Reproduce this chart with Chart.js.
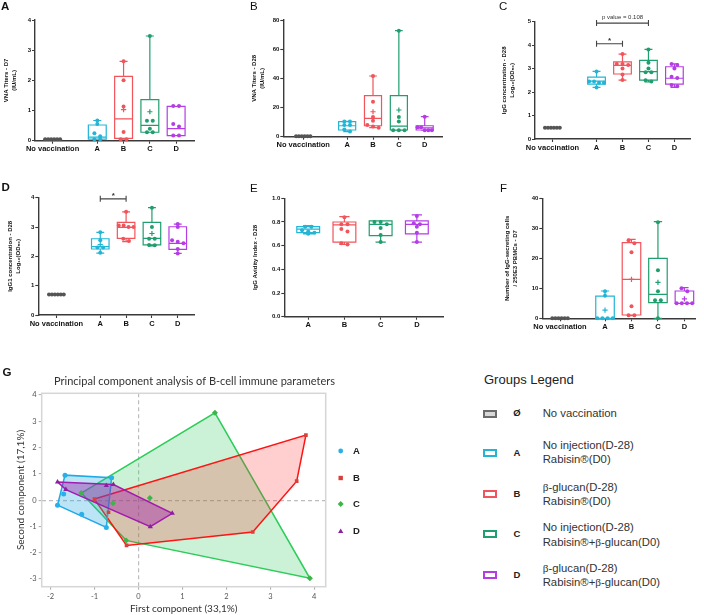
<!DOCTYPE html>
<html>
<head>
<meta charset="utf-8">
<script src="https://cdn.jsdelivr.net/npm/chart.js@4.4.1/dist/chart.umd.min.js"></script>
<style>
  body { margin: 0; background: #fff; }
  #page { position: relative; width: 704px; height: 615px; overflow: hidden; font-family: "Liberation Sans", Arial, sans-serif; color: #222; }
  canvas { position: absolute; }
  .tag { position: absolute; font-size: 11.5px; line-height: 1; color: #111; }
  .b { font-weight: bold; }
  .pl { position: absolute; left: 334px; height: 12px; font-size: 9.5px; font-weight: bold; line-height: 12px; }
  .pl i { position: absolute; left: 0; top: 0; width: 13px; height: 12px; }
  .pl span { position: absolute; left: 19px; }
  .gl { position: absolute; font-size: 11.3px; line-height: 14.3px; color: #333; }
  .ic { position: absolute; left: 482.5px; width: 14px; height: 8px; box-sizing: border-box; border: 2px solid; background: #fff; }
  .lt { position: absolute; left: 511px; width: 12px; text-align: center; font-size: 9.5px; font-weight: bold; line-height: 10px; }
  .sb { font-family: "Liberation Serif", serif; }
</style>
</head>
<body>
<div id="page">
  <canvas id="cA" width="200" height="160" style="left:0;top:0"></canvas>
  <canvas id="cB" width="200" height="160" style="left:248px;top:0"></canvas>
  <canvas id="cC" width="200" height="160" style="left:498px;top:0"></canvas>
  <canvas id="cD" width="196" height="160" style="left:4px;top:180px"></canvas>
  <canvas id="cE" width="199" height="160" style="left:249px;top:180px"></canvas>
  <canvas id="cF" width="203" height="160" style="left:501px;top:180px"></canvas>
  <canvas id="cG" width="340" height="253" style="left:0;top:362px"></canvas>

  <div class="tag b" style="left:1px;top:0.5px">A</div>
  <div class="tag" style="left:250px;top:1px">B</div>
  <div class="tag" style="left:499px;top:1px">C</div>
  <div class="tag b" style="left:1.5px;top:181.5px">D</div>
  <div class="tag" style="left:250px;top:182.5px">E</div>
  <div class="tag" style="left:500px;top:182.5px">F</div>
  <div class="tag b" style="left:2.5px;top:366.5px">G</div>

  <!-- PCA legend -->
  <div class="pl" style="top:444.7px"><i><svg width="13" height="12"><circle cx="6.7" cy="6" r="2.4" fill="#2ab0e8"/></svg></i><span>A</span></div>
  <div class="pl" style="top:471.7px"><i><svg width="13" height="12"><rect x="4.5" y="3.8" width="4.4" height="4.4" fill="#d9403a"/></svg></i><span>B</span></div>
  <div class="pl" style="top:498px"><i><svg width="13" height="12"><polygon points="6.7,3 9.7,6 6.7,9 3.7,6" fill="#3cb54a"/></svg></i><span>C</span></div>
  <div class="pl" style="top:524.7px"><i><svg width="13" height="12"><polygon points="6.7,3.4 9.3,8 4.1,8" fill="#8b1fa0"/></svg></i><span>D</span></div>

  <!-- groups legend -->
  <div class="gl" style="left:484px;top:372px;font-size:13px;line-height:16px;color:#222">Groups Legend</div>
  <div class="ic" style="top:409.7px;border-color:#6b6b6b;background:#d8d8d8"></div>
  <div class="lt" style="top:408.3px">Ø</div>
  <div class="gl" style="left:542.7px;top:406.2px">No vaccination</div>

  <div class="ic" style="top:448.5px;border-color:#22b5d6"></div>
  <div class="lt" style="top:447.5px">A</div>
  <div class="gl" style="left:542.7px;top:437.9px">No injection(D-28)<br>Rabisin®(D0)</div>

  <div class="ic" style="top:489.5px;border-color:#f2545b"></div>
  <div class="lt" style="top:488.5px">B</div>
  <div class="gl" style="left:542.7px;top:479.5px"><span class="sb">β</span>-glucan(D-28)<br>Rabisin®(D0)</div>

  <div class="ic" style="top:530.2px;border-color:#1f9e6e"></div>
  <div class="lt" style="top:529.2px">C</div>
  <div class="gl" style="left:542.7px;top:519.5px;line-height:15px">No injection(D-28)<br>Rabisin®+<span class="sb">β</span>-glucan(D0)</div>

  <div class="ic" style="top:570.8px;border-color:#b43de6"></div>
  <div class="lt" style="top:569.8px">D</div>
  <div class="gl" style="left:542.7px;top:560.5px"><span class="sb">β</span>-glucan(D-28)<br>Rabisin®+<span class="sb">β</span>-glucan(D0)</div>
</div>

<script>
// groupes et couleurs
const groups = ['No vaccination', 'A', 'B', 'C', 'D']
const groupColors = ['#555555', '#22b5d6', '#f2545b', '#1f9e6e', '#b43de6']

// box = [min, q1, mediane, q3, max]
// A - VNA titers D7 (IU/mL)
const vnaD7Box = [[0.05, 0.05, 0.05, 0.05, 0.05], [0.05, 0.05, 0.12, 0.52, 0.67], [0.05, 0.08, 0.72, 2.13, 2.63], [0.28, 0.28, 0.51, 1.36, 3.47], [0.17, 0.17, 0.40, 1.14, 1.14]]
const vnaD7Points = [[0.05, 0.05, 0.05, 0.05, 0.05, 0.05], [0.67, 0.55, 0.25, 0.15, 0.05, 0.05], [2.63, 2.0, 1.13, 0.29, 0.05, 0.05], [3.47, 0.66, 0.66, 0.4, 0.28, 0.28], [1.15, 1.15, 0.55, 0.47, 0.17, 0.17]]
const vnaD7Mean = [null, null, 1.03, 0.96, null]

// B - VNA titers D28 (IU/mL)
const vnaD28Box = [[0.3, 0.3, 0.3, 0.3, 0.3], [3.5, 4.6, 7.5, 10.3, 10.5], [6.2, 7.5, 12.6, 28.1, 41.6], [4.5, 4.6, 7.3, 28.1, 72.7], [4.5, 4.6, 6.0, 7.5, 13.7]]
const vnaD28Points = [[0.3, 0.3, 0.3, 0.3, 0.3, 0.3], [10.5, 10.5, 8, 8, 5, 3.5], [41.6, 24, 13.5, 11, 8, 7, 6.2], [72.7, 13.5, 10.5, 4.5, 4.5, 4.5], [13.7, 6.5, 6.5, 4.5, 4.5, 4.5]]
const vnaD28Mean = [null, null, 17.1, 18.3, null]

// C - IgG D28 log10(OD50)
const iggBox = [[0.48, 0.48, 0.48, 0.48, 0.48], [2.2, 2.34, 2.47, 2.64, 2.88], [2.51, 2.77, 3.14, 3.29, 3.62], [2.43, 2.51, 2.87, 3.35, 3.82], [2.2, 2.34, 2.59, 3.08, 3.2]]
const iggPoints = [[0.48, 0.48, 0.48, 0.48, 0.48, 0.48], [2.88, 2.45, 2.45, 2.4, 2.4, 2.2], [3.62, 3.2, 3.2, 3.15, 3.0, 2.75, 2.51], [3.82, 3.25, 3.0, 2.85, 2.85, 2.5, 2.45], [3.2, 3.15, 3.0, 2.65, 2.6, 2.3, 2.25]]
const iggSig = [{ from: 1, to: 3, at: 4.94, text: 'p value = 0.108' }, { from: 1, to: 2, at: 4.06, text: '*' }]

// D - IgG1 D28 log10(OD50)
const igg1Box = [[0.7, 0.7, 0.7, 0.7, 0.7], [2.11, 2.25, 2.33, 2.6, 2.82], [2.5, 2.61, 2.99, 3.16, 3.52], [2.36, 2.39, 2.61, 3.16, 3.66], [2.1, 2.24, 2.44, 3.01, 3.1]]
const igg1Points = [[0.7, 0.7, 0.7, 0.7, 0.7, 0.7], [2.82, 2.55, 2.3, 2.3, 2.12], [3.52, 3.05, 3.05, 3.0, 3.0, 2.6, 2.52], [3.66, 3.0, 2.6, 2.6, 2.39, 2.38], [3.1, 3.0, 2.55, 2.5, 2.45, 2.25, 2.1]]
const igg1Mean = [null, 2.4, null, 2.78, null]
const igg1Sig = [{ from: 1, to: 2, at: 3.96, text: '*' }]

// E - avidity index D28 (pas de groupe non vacciné)
const avidBox = [null, [0.70, 0.71, 0.74, 0.76, 0.77], [0.61, 0.63, 0.775, 0.80, 0.845], [0.63, 0.685, 0.78, 0.81, 0.81], [0.63, 0.70, 0.78, 0.81, 0.86]]
const avidPoints = [null, [0.76, 0.76, 0.73, 0.72, 0.71, 0.70], [0.84, 0.78, 0.78, 0.74, 0.72, 0.62, 0.61], [0.80, 0.80, 0.78, 0.75, 0.69, 0.63], [0.85, 0.79, 0.78, 0.76, 0.71, 0.63]]

// F - IgG secreting cells / 250E3 PBMCs D7
const ascBox = [[0, 0, 0, 0, 0], [0, 0, 0, 7.4, 9.1], [0.9, 1.1, 13, 25.2, 26.3], [0, 5.2, 8, 20, 32.2], [5, 5, 5, 9.1, 10.2]]
const ascPoints = [[0, 0, 0, 0, 0, 0], [9, 7.5, 0, 0, 0, 0], [26, 25, 22, 4, 1, 1], [32, 16, 9, 6, 6, 0], [10, 9, 5, 5, 5, 5]]
const ascMean = [null, 2.7, 13, 12, 6.5]

// G - ACP, coordonnees (CP1, CP2) par groupe
const pcaA = [[-1.67, 0.95], [-0.61, 0.85], [-0.73, -1.04], [-1.29, -0.54], [-1.84, -0.19], [-1.70, 0.23]]
const pcaB = [[-1.0, 0.04], [3.81, 2.47], [3.60, 0.72], [2.60, -1.21], [-0.27, -1.72], [-0.68, -0.46]]
const pcaC = [[-1.30, 0.27], [1.74, 3.32], [3.90, -2.97], [-0.28, -1.53], [0.26, 0.08], [-0.58, -0.12]]
const pcaD = [[-1.84, 0.69], [-1.65, 0.40], [-0.73, 0.56], [-0.57, 0.59], [0.77, -0.50], [0.27, -1.01]]
const pcaTicksX = [-2, -1, 0, 1, 2, 3, 4]
const pcaTicksY = [-3, -2, -1, 0, 1, 2, 3, 4]

// position des groupes sur l'axe x (ecart plus grand apres "No vaccination")
const noVacGap = 1.7
const groupPos = [0, noVacGap, noVacGap + 1, noVacGap + 2, noVacGap + 3]

Chart.defaults.font.family = '"Liberation Sans", Arial, sans-serif'
Chart.defaults.color = '#222'

/**
 * etale les points de valeur proche horizontalement
 */
function spreadPoints(values, pos, step, half, tol) {
  const sorted = [...values].sort((a, b) => b - a)
  const out = []
  let i = 0
  while (i < sorted.length) {
    let j = i
    while (j + 1 < sorted.length && sorted[i] - sorted[j + 1] <= tol) j++
    const k = j - i + 1
    const s = k > 1 ? Math.min(step, 2 * half / (k - 1)) : 0
    for (let m = 0; m < k; m++) out.push({ x: pos + (m - (k - 1) / 2) * s, y: sorted[i + m] })
    i = j + 1
  }
  return out
}

function makeBoxPlugin(stats, boxWidth, sig) {
  return {
    id: 'boxPlot',
    beforeDatasetsDraw(chart) {
      const { ctx } = chart
      const x = chart.scales.x, y = chart.scales.y
      stats.forEach((s, i) => {
        if (!s) return
        const cx = x.getPixelForValue(groupPos[i])
        const half = x.getPixelForValue(groupPos[i] + boxWidth / 2) - cx
        const p = s.map(v => y.getPixelForValue(v))
        ctx.save()
        ctx.strokeStyle = groupColors[i]
        ctx.lineWidth = 1.2
        ctx.beginPath()
        ctx.rect(cx - half, p[3], half * 2, p[1] - p[3])
        ctx.moveTo(cx - half, p[2]); ctx.lineTo(cx + half, p[2])
        ctx.moveTo(cx, p[3]); ctx.lineTo(cx, p[4])
        ctx.moveTo(cx, p[1]); ctx.lineTo(cx, p[0])
        ctx.moveTo(cx - half * 0.45, p[4]); ctx.lineTo(cx + half * 0.45, p[4])
        ctx.moveTo(cx - half * 0.45, p[0]); ctx.lineTo(cx + half * 0.45, p[0])
        ctx.stroke()
        ctx.restore()
      })
    },
    afterDatasetsDraw(chart) {
      if (!sig) return
      const { ctx } = chart
      const x = chart.scales.x, y = chart.scales.y
      sig.forEach(m => {
        const x1 = x.getPixelForValue(groupPos[m.from])
        const x2 = x.getPixelForValue(groupPos[m.to])
        const yy = y.getPixelForValue(m.at)
        ctx.save()
        ctx.strokeStyle = '#444'
        ctx.lineWidth = 1.1
        ctx.beginPath()
        ctx.moveTo(x1, yy); ctx.lineTo(x2, yy)
        ctx.moveTo(x1, yy - 3); ctx.lineTo(x1, yy + 3)
        ctx.moveTo(x2, yy - 3); ctx.lineTo(x2, yy + 3)
        ctx.stroke()
        ctx.fillStyle = '#333'
        ctx.textAlign = 'center'
        ctx.textBaseline = 'bottom'
        ctx.font = m.text === '*' ? 'bold 8px "Liberation Sans"' : '6px "Liberation Sans"'
        ctx.fillText(m.text, (x1 + x2) / 2, m.text === '*' ? yy + 1 : yy - 2.5)
        ctx.restore()
      })
    }
  }
}

function boxChart(id, cfg) {
  const datasets = []
  cfg.points.forEach((vals, g) => {
    if (!vals) return
    datasets.push({
      type: 'scatter',
      data: spreadPoints(vals, groupPos[g], cfg.step, cfg.boxWidth * 0.42, cfg.yMax * 0.025),
      backgroundColor: groupColors[g],
      borderWidth: 0,
      pointRadius: 2,
      clip: false
    })
    if (cfg.means && cfg.means[g] != null) {
      datasets.push({
        type: 'scatter',
        data: [{ x: groupPos[g], y: cfg.means[g] }],
        pointStyle: 'cross',
        pointRadius: 2.6,
        borderColor: groupColors[g],
        borderWidth: 1.2,
        clip: false
      })
    }
  })
  const shown = groupPos.filter((p, g) => cfg.points[g])

  return new Chart(document.getElementById(id), {
    type: 'scatter',
    data: { datasets },
    plugins: [makeBoxPlugin(cfg.stats, cfg.boxWidth, cfg.sig)],
    options: {
      responsive: false,
      animation: false,
      devicePixelRatio: 1,
      layout: { padding: { left: 0, top: cfg.padTop, right: cfg.padRight, bottom: 0 } },
      plugins: { legend: { display: false }, tooltip: { enabled: false } },
      scales: {
        x: {
          type: 'linear',
          min: cfg.xMin,
          max: cfg.xMax,
          afterBuildTicks: axis => { axis.ticks = shown.map(v => ({ value: v })) },
          afterFit: s => { s.height = cfg.xHeight },
          ticks: {
            autoSkip: false,
            maxRotation: 0,
            padding: 1,
            color: '#111',
            font: { size: 7.5, weight: 'bold' },
            callback: v => groups[groupPos.findIndex(p => Math.abs(p - v) < 1e-6)]
          },
          grid: { drawOnChartArea: false, tickLength: 3, tickColor: '#3a3a3a', tickWidth: 1.1 },
          border: { color: '#3a3a3a', width: 1.4 }
        },
        y: {
          min: 0,
          max: cfg.yMax,
          afterFit: s => { s.width = cfg.yWidth },
          ticks: {
            stepSize: cfg.yStep,
            padding: 1,
            color: '#111',
            font: { size: 6, weight: 'bold' },
            callback: cfg.tickFmt || (v => v)
          },
          grid: { drawOnChartArea: false, tickLength: 3, tickColor: '#3a3a3a', tickWidth: 1.1 },
          border: { color: '#3a3a3a', width: 1.4 },
          title: {
            display: true,
            text: cfg.yTitle,
            color: '#111',
            padding: { top: 2, bottom: 0 },
            font: { size: 6, weight: 'bold', lineHeight: 1.4 }
          }
        }
      }
    }
  })
}

boxChart('cA', {
  stats: vnaD7Box, points: vnaD7Points, means: vnaD7Mean,
  yMax: 4, yStep: 1, yTitle: ['VNA Titers - D7', '(IU/mL)'],
  xMin: -0.67, xMax: 5.41, boxWidth: 0.68, step: 0.22,
  padTop: 20, padRight: 3, yWidth: 35, xHeight: 19.3
})

boxChart('cB', {
  stats: vnaD28Box, points: vnaD28Points, means: vnaD28Mean,
  yMax: 80, yStep: 20, yTitle: ['VNA Titers - D28', '(IU/mL)'],
  xMin: -0.77, xMax: 5.4, boxWidth: 0.66, step: 0.22,
  padTop: 20, padRight: 5, yWidth: 35.3, xHeight: 23.3
})

boxChart('cC', {
  stats: iggBox, points: iggPoints, sig: iggSig,
  yMax: 5, yStep: 1, yTitle: ['IgG concentration - D28', 'Log₁₀(OD₅₀)'],
  xMin: -0.67, xMax: 5.3, boxWidth: 0.68, step: 0.22,
  padTop: 21.7, padRight: 8, yWidth: 37, xHeight: 21
})

boxChart('cD', {
  stats: igg1Box, points: igg1Points, means: igg1Mean, sig: igg1Sig,
  yMax: 4, yStep: 1, yTitle: ['IgG1 concentration - D28', 'Log₁₀(OD₅₀)'],
  xMin: -0.7, xMax: 5.36, boxWidth: 0.68, step: 0.22,
  padTop: 17.7, padRight: 5, yWidth: 34.3, xHeight: 25
})

boxChart('cE', {
  stats: avidBox, points: avidPoints,
  yMax: 1, yStep: 0.2, yTitle: 'IgG Avidity Index - D28', tickFmt: v => v.toFixed(1),
  xMin: 1.04, xMax: 5.43, boxWidth: 0.63, step: 0.17,
  padTop: 18.3, padRight: 4.7, yWidth: 35.3, xHeight: 23.3
})

boxChart('cF', {
  stats: ascBox, points: ascPoints, means: ascMean,
  yMax: 40, yStep: 10, yTitle: ['Number of IgG-secreting cells', '/ 250E3 PBMCs - D7'],
  xMin: -0.67, xMax: 5.1, boxWidth: 0.7, step: 0.22,
  padTop: 18.3, padRight: 9, yWidth: 41.3, xHeight: 21.7
})

/**
 * enveloppe convexe (monotone chain), fermee
 */
function convexHull(pairs) {
  const p = pairs.map(([x, y]) => ({ x, y })).sort((a, b) => a.x - b.x || a.y - b.y)
  const cross = (o, a, b) => (a.x - o.x) * (b.y - o.y) - (a.y - o.y) * (b.x - o.x)
  const lower = [], upper = []
  for (const q of p) {
    while (lower.length >= 2 && cross(lower[lower.length - 2], lower[lower.length - 1], q) <= 0) lower.pop()
    lower.push(q)
  }
  for (const q of [...p].reverse()) {
    while (upper.length >= 2 && cross(upper[upper.length - 2], upper[upper.length - 1], q) <= 0) upper.pop()
    upper.push(q)
  }
  upper.pop(); lower.pop()
  const h = lower.concat(upper)
  return h.concat([h[0]])
}

const pcaGroups = [
  { label: 'A', pts: pcaA, line: '#1fa9e6', fill: 'rgba(31,169,230,0.30)', point: '#2ab0e8', style: 'circle', r: 2.5, order: 6 },
  { label: 'B', pts: pcaB, line: '#ff1414', fill: 'rgba(255,30,30,0.22)', point: '#d9403a', style: 'rect', r: 2.6, order: 7 },
  { label: 'C', pts: pcaC, line: '#2ecc5a', fill: 'rgba(46,204,90,0.25)', point: '#3cb54a', style: 'rectRot', r: 3, order: 8 },
  { label: 'D', pts: pcaD, line: '#a21caf', fill: 'rgba(160,30,170,0.42)', point: '#8b1fa0', style: 'triangle', r: 3, order: 5 }
]

const pcaDatasets = []
pcaGroups.forEach((g, i) => {
  pcaDatasets.push({
    type: 'line',
    data: convexHull(g.pts),
    borderColor: g.line,
    backgroundColor: g.fill,
    borderWidth: 1.5,
    pointRadius: 0,
    tension: 0,
    fill: 'shape',
    order: g.order
  })
  pcaDatasets.push({
    type: 'scatter',
    data: g.pts.map(([x, y]) => ({ x, y })),
    pointStyle: g.style,
    pointRadius: g.r,
    backgroundColor: g.point,
    borderColor: g.point,
    borderWidth: 0,
    order: 1 + i
  })
})

const framePlugin = {
  id: 'frame',
  beforeDatasetsDraw(chart) {
    const { ctx, chartArea: a } = chart
    ctx.save()
    ctx.strokeStyle = '#d6d6d6'
    ctx.lineWidth = 1.5
    ctx.strokeRect(a.left, a.top, a.right - a.left, a.bottom - a.top)
    ctx.restore()
  }
}

const zeroGrid = c => (c.tick && c.tick.value === 0 ? '#bdbdbd' : 'rgba(0,0,0,0)')

new Chart(document.getElementById('cG'), {
  type: 'scatter',
  data: { datasets: pcaDatasets },
  plugins: [framePlugin],
  options: {
    responsive: false,
    animation: false,
    devicePixelRatio: 1,
    layout: { padding: { left: 0, top: 0, right: 5, bottom: 0 } },
    plugins: {
      legend: { display: false },
      tooltip: { enabled: false },
      title: {
        display: true,
        text: 'Principal component analysis of B-cell immune parameters',
        align: 'end',
        color: '#333',
        font: { family: 'Lato', size: 11, weight: 'normal' },
        padding: { top: 13.3, bottom: 4.8 }
      }
    },
    scales: {
      x: {
        type: 'linear',
        min: -2.2,
        max: 4.26,
        afterBuildTicks: axis => { axis.ticks = pcaTicksX.map(v => ({ value: v })) },
        afterFit: s => { s.height = 28.3 },
        ticks: { padding: 2, color: '#555', font: { family: 'Lato', size: 7.5 } },
        grid: { color: zeroGrid, lineWidth: 1.2, tickLength: 3, tickColor: '#aaa', tickWidth: 1 },
        border: { display: false, dash: [4, 3] },
        title: {
          display: true,
          text: 'First component (33,1%)',
          color: '#333',
          font: { family: 'Lato', size: 10 },
          padding: { top: 0, bottom: 0 }
        }
      },
      y: {
        min: -3.29,
        max: 4.06,
        afterBuildTicks: axis => { axis.ticks = pcaTicksY.map(v => ({ value: v })) },
        afterFit: s => { s.width = 41.7 },
        ticks: { padding: 2, color: '#555', font: { family: 'Lato', size: 7.5 } },
        grid: { color: zeroGrid, lineWidth: 1.2, tickLength: 3, tickColor: '#aaa', tickWidth: 1 },
        border: { display: false, dash: [4, 3] },
        title: {
          display: true,
          text: 'Second component (17,1%)',
          color: '#333',
          font: { family: 'Lato', size: 10 },
          padding: { top: 14.7, bottom: 0 }
        }
      },
      gap: {
        type: 'linear',
        position: 'right',
        display: true,
        afterFit: s => { s.width = 9.3 },
        ticks: { display: false },
        grid: { display: false },
        border: { display: false }
      }
    }
  }
})
</script>
</body>
</html>
